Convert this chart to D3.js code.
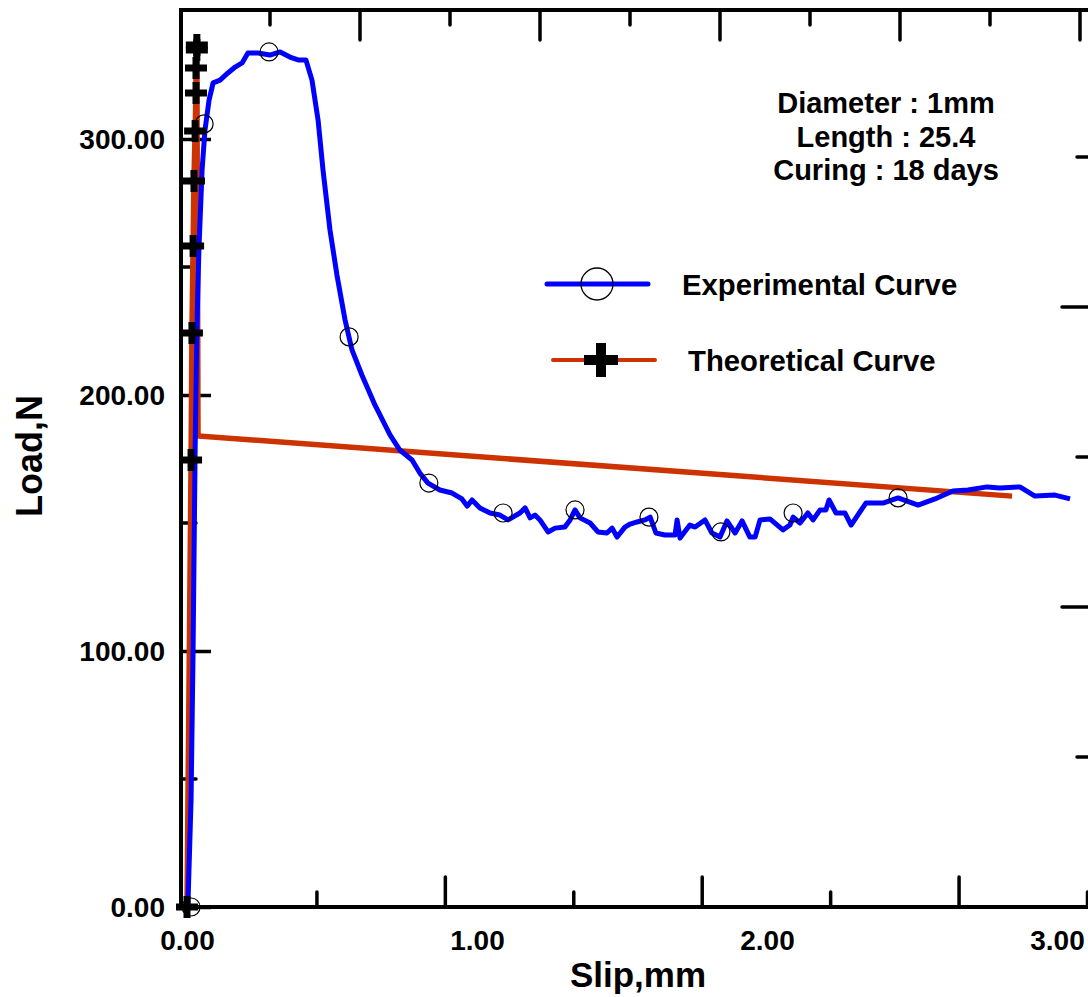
<!DOCTYPE html>
<html>
<head>
<meta charset="utf-8">
<script src="https://cdn.jsdelivr.net/npm/d3@7"></script>
<style>
  html, body { margin: 0; padding: 0; background: #fff; }
  svg { display: block; }
  text { font-family: "Liberation Sans", Arial, sans-serif; font-weight: bold; fill: #000; }
</style>
</head>
<body>
<svg id="chart" width="1088" height="997"></svg>
<script>
// Pull-out test: load (N) versus slip (mm)
const expSlip = [0.003, 0.014, 0.021, 0.028, 0.034, 0.041, 0.052, 0.062, 0.076, 0.090,
  0.114, 0.141, 0.166, 0.190, 0.210, 0.245, 0.286, 0.321, 0.355, 0.383,
  0.410, 0.431, 0.452, 0.469, 0.493, 0.517, 0.545, 0.569, 0.603, 0.648,
  0.700, 0.734, 0.776, 0.803, 0.831, 0.872, 0.914, 0.948, 0.966, 0.983,
  1.010, 1.045, 1.079, 1.107, 1.148, 1.166, 1.183, 1.200, 1.217, 1.245,
  1.269, 1.303, 1.321, 1.338, 1.355, 1.390, 1.417, 1.448, 1.466, 1.483,
  1.510, 1.528, 1.552, 1.579, 1.597, 1.617, 1.648, 1.683, 1.690, 1.700,
  1.734, 1.752, 1.786, 1.810, 1.838, 1.862, 1.890, 1.914, 1.941, 1.959,
  1.976, 2.010, 2.055, 2.079, 2.090, 2.114, 2.141, 2.159, 2.183, 2.203,
  2.214, 2.238, 2.269, 2.290, 2.341, 2.400, 2.452, 2.521, 2.579, 2.641,
  2.693, 2.759, 2.803, 2.872, 2.924, 2.993, 3.045];
const expLoad = [0, 41.8, 100.4, 178.5, 225.4, 256.6, 287.9, 303.5, 315.2, 321.9,
  323.0, 325.8, 328.1, 329.7, 333.6, 333.6, 332.8, 334.0, 332.0, 330.9,
  330.9, 323.0, 307.4, 287.9, 264.5, 246.9, 229.3, 217.6, 207.8, 196.1,
  184.4, 178.5, 174.6, 169.5, 165.6, 162.9, 161.7, 159.4, 156.6, 159.0,
  155.9, 153.9, 153.1, 151.2, 153.9, 155.9, 152.0, 153.1, 151.2, 146.5,
  148.0, 148.4, 151.2, 155.1, 152.0, 150.0, 146.5, 146.1, 148.0, 144.5,
  148.4, 149.6, 150.4, 151.2, 152.3, 146.1, 145.3, 145.3, 151.2, 144.1,
  149.2, 148.4, 151.2, 146.1, 144.5, 150.8, 146.1, 150.8, 144.5, 144.5,
  151.2, 151.6, 147.3, 149.2, 152.3, 150.0, 153.9, 151.2, 155.1, 155.1,
  159.0, 153.9, 153.9, 149.2, 157.8, 157.8, 159.8, 157.0, 159.4, 162.5,
  162.9, 164.1, 163.7, 164.1, 160.5, 160.9, 159.4];

// Circle symbols on the experimental record
const expMarkSlip = [0.014, 0.059, 0.283, 0.559, 0.834, 1.090, 1.338, 1.593, 1.841, 2.090, 2.452];
const expMarkLoad = [0, 305.9, 334.0, 222.7, 165.6, 153.9, 155.1, 152.3, 146.5, 153.9, 159.8];

// Theoretical bond-slip model: elastic rise, drop at debonding, linear frictional decay
const theoSlip = [0.000, 0.014, 0.017, 0.021, 0.024, 0.028, 0.031, 0.031, 0.034, 0.034, 0.038, 2.845];
const theoLoad = [0, 174.6, 224.2, 258.2, 283.6, 303.1, 318.0, 327.7, 334.8, 336.7, 184.0, 160.5];
const theoMarkCount = 10;   // plus symbols on the rising branch

const xTickValues = [0, 1, 2, 3];
const yTickValues = [0, 100, 200, 300];
const yMinorValues = [50, 150, 250];

const legendLabels = ["Experimental Curve", "Theoretical Curve"];
const noteLines = ["Diameter : 1mm", "Length : 25.4", "Curing : 18 days"];
const xTitle = "Slip,mm";
const yTitle = "Load,N";

const svg = d3.select("#chart");
const frame = { left: 181, right: 1092, top: 10, bottom: 907 };

const x = d3.scaleLinear().domain([-0.0207, 3.1207]).range([frame.left, frame.right]);
const y = d3.scaleLinear().domain([0, 350]).range([frame.bottom, 11]);

// Tick-mark rulers on the frame
const topRuler = d3.scaleLinear().domain([0, 10]).range([180, 1080]);
const bottomRuler = d3.scaleLinear().domain([0, 7]).range([188.5, 1087.5]);
const rightRuler = d3.scaleLinear().domain([0, 6]).range([907, 7]);

const BLUE = "#0000ff", RED = "#cc3300";

// Frame
svg.append("rect")
  .attr("x", frame.left).attr("y", frame.top)
  .attr("width", frame.right - frame.left).attr("height", frame.bottom - frame.top)
  .attr("fill", "none").attr("stroke", "#000").attr("stroke-width", 4);
svg.append("line").attr("x1", frame.left - 4).attr("x2", frame.left)
  .attr("y1", frame.bottom).attr("y2", frame.bottom)
  .attr("stroke", "#000").attr("stroke-width", 4);

const ticks = svg.append("g").attr("stroke", "#000").attr("stroke-width", 3.5).attr("stroke-linecap", "round");

// top ruler ticks
d3.range(1, 11).forEach(i => {
  const len = i % 2 === 0 ? 30 : 15;
  ticks.append("line").attr("x1", topRuler(i)).attr("x2", topRuler(i))
    .attr("y1", frame.top).attr("y2", frame.top + len);
});
// bottom ruler ticks
d3.range(1, 8).forEach(i => {
  const len = i % 2 === 0 ? 30 : 15;
  ticks.append("line").attr("x1", bottomRuler(i)).attr("x2", bottomRuler(i))
    .attr("y1", frame.bottom).attr("y2", frame.bottom - len);
});
// right ruler ticks
d3.range(1, 6).forEach(i => {
  const len = i % 2 === 0 ? 30 : 15;
  ticks.append("line").attr("x1", frame.right).attr("x2", frame.right - len)
    .attr("y1", rightRuler(i)).attr("y2", rightRuler(i));
});

// Left axis: major ticks with labels, minor ticks inward
const yAxis = d3.axisRight(y).tickValues(yTickValues).tickSize(30).tickFormat("");
const yAxisG = svg.append("g").attr("transform", `translate(${frame.left},0)`).call(yAxis);
yAxisG.select(".domain").remove();
yAxisG.selectAll(".tick line").attr("stroke", "#000").attr("stroke-width", 3.5);
yMinorValues.forEach(v => {
  ticks.append("line").attr("x1", frame.left).attr("x2", frame.left + 15)
    .attr("y1", y(v)).attr("y2", y(v));
});
svg.append("g").selectAll("text").data(yTickValues).join("text")
  .attr("x", 165).attr("y", d => y(d)).attr("dy", "0.36em")
  .attr("text-anchor", "end").attr("font-size", 28)
  .text(d => d3.format(".2f")(d));

// Bottom axis labels
const xAxis = d3.axisBottom(x).tickValues(xTickValues).tickSize(0).tickPadding(0).tickFormat(d3.format(".2f"));
const xAxisG = svg.append("g").attr("transform", `translate(0,${frame.bottom})`).call(xAxis);
xAxisG.select(".domain").remove();
xAxisG.selectAll(".tick text")
  .attr("y", 43).attr("dy", 0)
  .attr("font-size", 28).attr("font-family", "Liberation Sans, Arial, sans-serif")
  .attr("font-weight", "bold").attr("fill", "#000");

// Axis titles
svg.append("text").attr("x", 638).attr("y", 987).attr("text-anchor", "middle")
  .attr("font-size", 35).text(xTitle);
svg.append("text").attr("transform", "translate(42,456) rotate(-90)")
  .attr("text-anchor", "middle").attr("font-size", 36).text(yTitle);

// Curves
const line = d3.line().x(d => x(d[0])).y(d => y(d[1]));
const expPts = expSlip.map((s, i) => [s, expLoad[i]]);
const theoPts = theoSlip.map((s, i) => [s, theoLoad[i]]);

svg.append("path").datum(theoPts).attr("d", line)
  .attr("fill", "none").attr("stroke", RED).attr("stroke-width", 5.5)
  .attr("stroke-linejoin", "miter");

svg.append("path").datum(expPts).attr("d", line)
  .attr("fill", "none").attr("stroke", BLUE).attr("stroke-width", 5)
  .attr("stroke-linejoin", "round");

// Symbols
svg.append("g").selectAll("circle").data(expMarkSlip).join("circle")
  .attr("cx", d => x(d)).attr("cy", (d, i) => y(expMarkLoad[i])).attr("r", 9)
  .attr("fill", "none").attr("stroke", "#000").attr("stroke-width", 1.2);

const plus = (h) => `M${-h},0H${h}M0,${-h}V${h}`;
svg.append("g").selectAll("path").data(theoPts.slice(0, theoMarkCount)).join("path")
  .attr("transform", d => `translate(${x(d[0])},${y(d[1])})`)
  .attr("d", plus(11)).attr("stroke", "#000").attr("stroke-width", 7).attr("fill", "none");

// Legend
const leg = svg.append("g");
leg.append("line").attr("x1", 547).attr("x2", 648).attr("y1", 284).attr("y2", 284)
  .attr("stroke", BLUE).attr("stroke-width", 5).attr("stroke-linecap", "round");
leg.append("circle").attr("cx", 597).attr("cy", 284).attr("r", 16)
  .attr("fill", "none").attr("stroke", "#000").attr("stroke-width", 1.3);
leg.append("text").attr("x", 682).attr("y", 284).attr("dy", "0.36em")
  .attr("font-size", 29.3).text(legendLabels[0]);
leg.append("line").attr("x1", 553).attr("x2", 655).attr("y1", 360).attr("y2", 360)
  .attr("stroke", RED).attr("stroke-width", 4).attr("stroke-linecap", "round");
leg.append("path").attr("transform", "translate(601,360)").attr("d", plus(17))
  .attr("stroke", "#000").attr("stroke-width", 10).attr("fill", "none");
leg.append("text").attr("x", 688).attr("y", 360).attr("dy", "0.36em")
  .attr("font-size", 29.3).text(legendLabels[1]);

// Specimen note
svg.append("g").selectAll("text").data(noteLines).join("text")
  .attr("x", 886).attr("y", (d, i) => 103 + i * 33.5).attr("dy", "0.36em")
  .attr("text-anchor", "middle").attr("font-size", 29).text(d => d);
</script>
</body>
</html>
